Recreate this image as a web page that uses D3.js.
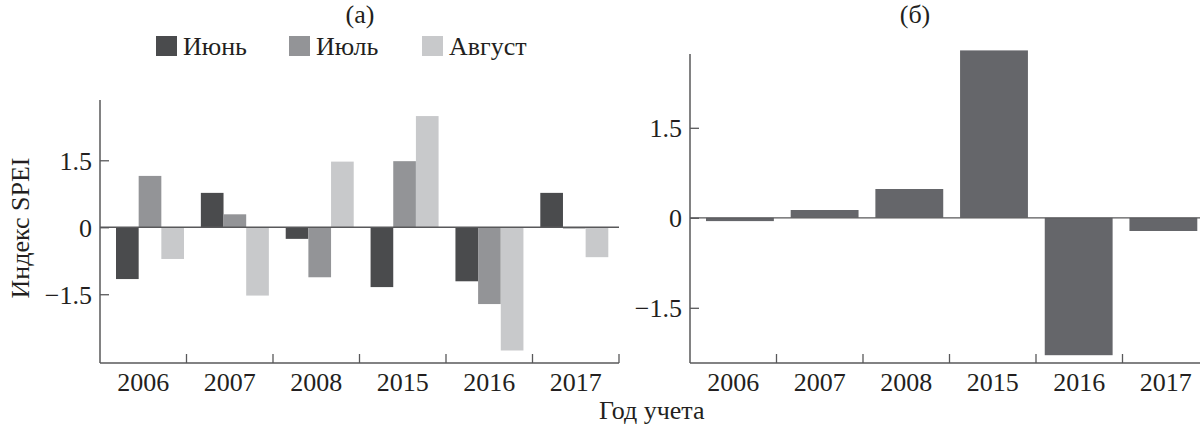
<!DOCTYPE html>
<html><head><meta charset="utf-8">
<script src="https://cdn.jsdelivr.net/npm/d3@7"></script>
</head>
<body style="margin:0;background:#fff"><svg id="c" width="1200" height="425"></svg>
<script>
const years = ["2006","2007","2008","2015","2016","2017"];
const months = ["Июнь","Июль","Август"];
const june   = [-1.16, 0.77, -0.26, -1.34, -1.21, 0.77];
const july   = [ 1.15, 0.29, -1.12,  1.48, -1.72, -0.03];
const august = [-0.71,-1.53,  1.47,  2.49, -2.76, -0.67];
const annual = [-0.055, 0.13, 0.48, 2.79, -2.29, -0.22];
const yTicks = [-1.5, 0, 1.5];
const yTickLabels = ["\u22121.5", "0", "1.5"];
const monthColors = ["#4a4b4d", "#939497", "#c8c9cb"];
const annualColor = "#65666a";
const axisColor = "#58585a";
const FONT = '"Liberation Serif"';
const TXT = "#231f20";

const svg = d3.select("#c").style("font-family", FONT);
const monthly = [june, july, august];

function addText(sel){
  return sel.append("text").style("font-family", FONT).attr("fill", TXT);
}

function panel(cfg){
  const g = svg.append("g");
  const y = d3.scaleLinear().domain(cfg.ydom).range([cfg.bottom, cfg.top]);
  const xTick = d3.scaleBand().domain(years).range([cfg.left, cfg.right]).padding(0);
  const xBar = d3.scaleBand().domain(years).range(cfg.barRange).paddingInner(0.1987).paddingOuter(0);
  cfg.drawBars(g, xBar, y);
  g.append("line").attr("x1", cfg.left).attr("x2", cfg.zeroEnd)
    .attr("y1", y(0)).attr("y2", y(0)).attr("stroke", axisColor).attr("stroke-width", 1.3);
  const ya = d3.axisRight(y).tickValues(yTicks).tickSize(9).tickFormat((d,i)=>yTickLabels[i]);
  const yg = g.append("g").attr("transform", `translate(${cfg.left},0)`).call(ya);
  yg.attr("font-family", null).attr("font-size", null);
  yg.select(".domain").remove();
  yg.selectAll(".tick line").attr("stroke", axisColor).attr("stroke-width", 1.3);
  yg.selectAll(".tick text").attr("x", -8).attr("text-anchor", "end")
    .style("font-size", "26px").style("font-family", FONT).attr("fill", TXT).attr("dy", "0.34em");
  g.append("line").attr("x1", cfg.left).attr("x2", cfg.left).attr("y1", cfg.top).attr("y2", cfg.bottom)
    .attr("stroke", axisColor).attr("stroke-width", 1.5);
  g.append("line").attr("x1", cfg.left).attr("x2", cfg.axisEnd).attr("y1", cfg.bottom).attr("y2", cfg.bottom)
    .attr("stroke", axisColor).attr("stroke-width", 1.5);
  g.selectAll(".xt").data(years).enter().append("line")
    .attr("x1", d => xTick(d) + xTick.bandwidth()).attr("x2", d => xTick(d) + xTick.bandwidth())
    .attr("y1", cfg.bottom).attr("y2", cfg.bottom - 9).attr("stroke", axisColor).attr("stroke-width", 1.3);
  g.selectAll(".xl").data(years).enter().append("text")
    .style("font-family", FONT).attr("fill", TXT)
    .attr("x", d => xTick(d) + xTick.bandwidth()/2).attr("y", cfg.bottom + 28)
    .attr("text-anchor", "middle").style("font-size", "26px").text(d => d);
  addText(g).attr("x", cfg.titleX).attr("y", 23).attr("text-anchor", "middle")
    .style("font-size", "26px").text(cfg.title);
}

panel({
  left: 100, right: 619, top: 100, bottom: 363, ydom: [-3.04, 2.85],
  zeroEnd: 619, axisEnd: 619, barRange: [116, 608.3], titleX: 360, title: "(а)",
  drawBars: (g, xb, y) => {
    const w = xb.bandwidth() / 3;
    monthly.forEach((vals, m) => {
      g.selectAll(".b" + m).data(years).enter().append("rect")
        .attr("x", (d) => xb(d) + m * w)
        .attr("width", w)
        .attr("y", (d, i) => y(Math.max(0, vals[i])))
        .attr("height", (d, i) => Math.abs(y(vals[i]) - y(0)))
        .attr("fill", monthColors[m]);
    });
  }
});

panel({
  left: 690, right: 1209, top: 54, bottom: 363, ydom: [-2.42, 2.73],
  zeroEnd: 1200, axisEnd: 1200, barRange: [706, 1197.3], titleX: 915, title: "(б)",
  drawBars: (g, xb, y) => {
    g.selectAll(".ba").data(years).enter().append("rect")
      .attr("x", d => xb(d)).attr("width", xb.bandwidth())
      .attr("y", (d, i) => y(Math.max(0, annual[i])))
      .attr("height", (d, i) => Math.abs(y(annual[i]) - y(0)))
      .attr("fill", annualColor);
  }
});

const legX = [156, 289, 422];
months.forEach((m, i) => {
  svg.append("rect").attr("x", legX[i]).attr("y", 36).attr("width", 21).attr("height", 20).attr("fill", monthColors[i]);
  addText(svg).attr("x", legX[i] + 27).attr("y", 55).style("font-size", "26px").text(m);
});

addText(svg).attr("transform", "translate(29,228) rotate(-90)").attr("text-anchor", "middle")
  .style("font-size", "26px").text("Индекс SPEI");
addText(svg).attr("x", 599).attr("y", 419).attr("text-anchor", "start")
  .style("font-size", "26px").text("Год учета");
</script></body></html>
